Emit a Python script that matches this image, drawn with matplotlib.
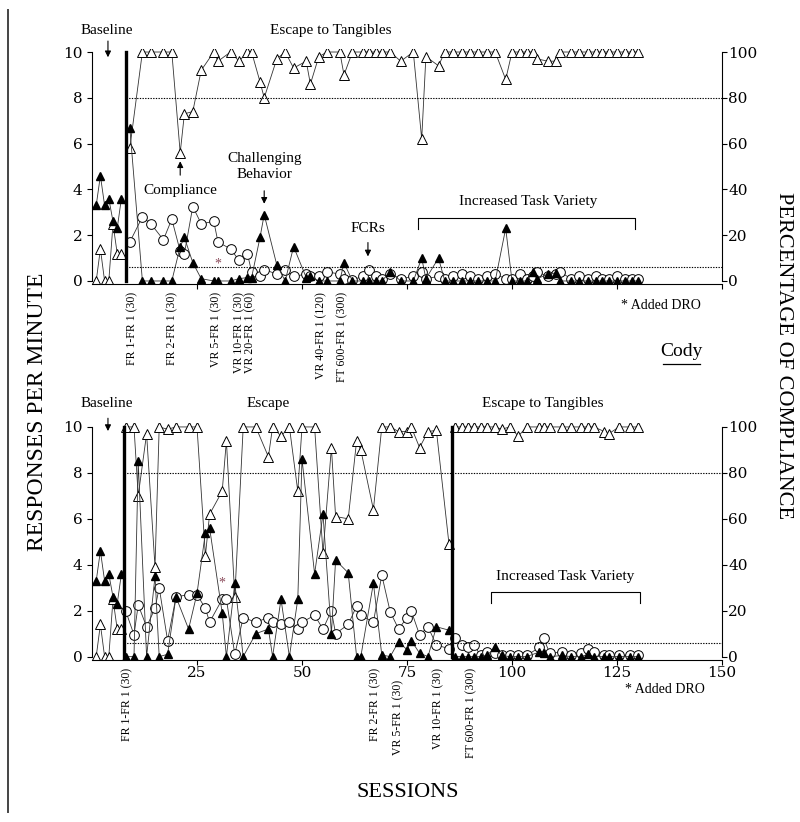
import matplotlib
matplotlib.use("Agg")
import matplotlib.pyplot as plt
from matplotlib import transforms
from matplotlib.lines import Line2D

plt.rcParams['font.family'] = ['Liberation Serif', 'DejaVu Serif']

# ---------------- data ----------------
# baseline, identical in both panels
base_x = [1, 2, 3, 4, 5, 6, 7]
base_chal = [3.3, 4.6, 3.3, 3.6, 2.6, 2.3, 3.6]
base_comp = [0, 1.4, 0, 0, 2.5, 1.2, 1.2]

# top panel: escape to tangibles
top_x = [9, 12, 14, 17, 19, 21, 22, 24, 26, 29, 30, 33, 35, 37, 38, 40, 41, 44, 46,
         48, 51, 52, 54, 56, 59, 60, 62,
         64.5, 66, 67.5, 69, 71, 73.5, 76.5, 78.5, 79.5, 82.5, 84, 86, 88, 90, 92, 94,
         96, 98.5, 100, 102, 103.5, 105, 106, 108.5, 110.5, 111.5, 114, 116, 118, 120,
         121.5, 123, 125, 127, 128.5, 130]
top_comp = [5.8, 10, 10, 10, 10, 5.6, 7.3, 7.4, 9.2, 10, 9.6, 10, 9.6, 10, 10, 8.7, 8.0,
            9.7, 10, 9.3, 9.6, 8.6, 9.8, 10, 10, 9.0, 10,
            10, 10, 10, 10, 10, 9.6, 10, 6.2, 9.8, 9.4, 10, 10, 10, 10, 10, 10, 10, 8.8,
            10, 10, 10, 10, 9.7, 9.6, 9.6, 10, 10, 10, 10, 10, 10, 10, 10, 10, 10, 10]
top_fcr = [1.7, 2.8, 2.5, 1.8, 2.7, 1.3, 1.2, 3.25, 2.5, 2.6, 1.7, 1.4, 0.9, 1.2, 0.4,
           0.2, 0.5, 0.3, 0.5, 0.2, 0.3, 0.2, 0.2, 0.4, 0.3, 0.1, 0.05,
           0.2, 0.5, 0.2, 0.1, 0.3, 0.1, 0.2, 0.4, 0.1, 0.2, 0.1, 0.2, 0.3, 0.2, 0.1,
           0.2, 0.3, 0.1, 0.1, 0.3, 0.1, 0.2, 0.4, 0.2, 0.3, 0.4, 0.1, 0.2, 0.1, 0.2,
           0.1, 0.1, 0.2, 0.1, 0.1, 0.1]
top_chal = [6.7, 0, 0, 0, 0, 1.5, 1.9, 0.8, 0.1, 0, 0, 0, 0.1, 0.15, 0.15, 1.9, 2.9,
            0.7, 0, 1.5, 0.15, 0.2, 0, 0, 0, 0.8, 0,
            0, 0, 0, 0, 0.4, 0, 0, 1.0, 0.1, 1.0, 0, 0, 0, 0, 0, 0, 0, 2.3, 0, 0, 0,
            0.4, 0.1, 0.3, 0.35, 0, 0, 0, 0, 0, 0, 0, 0, 0, 0, 0]

# bottom panel: escape
esc_x = [8, 10, 11, 13, 15, 16, 18, 20, 23, 25, 27, 28, 31, 32, 34, 36, 39, 42, 43, 45,
         47, 49, 50, 53, 55, 57, 58, 61, 63, 64, 67, 69, 71, 73, 75, 76, 78, 80, 82, 85]
esc_comp = [10, 10, 7.0, 9.7, 3.9, 10, 9.9, 10, 10, 10, 4.4, 6.2, 7.2, 9.4, 2.6, 10, 10,
            8.7, 10, 9.6, 10, 7.2, 10, 10, 4.5, 9.1, 6.1, 6.0, 9.4, 9.0, 6.4, 10, 10,
            9.8, 9.8, 10, 9.1, 9.8, 9.85, 4.9]
esc_fcr = [2.0, 0.95, 2.25, 1.3, 2.1, 3.0, 0.7, 2.6, 2.7, 2.7, 2.1, 1.5, 2.5, 2.5, 0.1,
           1.7, 1.5, 1.7, 1.5, 1.4, 1.5, 1.2, 1.5, 1.8, 1.2, 2.0, 1.0, 1.4, 2.2, 1.8, 1.5,
           3.55, 1.95, 1.2, 1.7, 2.0, 0.94, 1.3, 0.5, 0.35]
esc_chal = [0, 0, 8.5, 0, 3.5, 0, 0.1, 2.6, 1.2, 2.75, 5.4, 5.6, 1.9, 0, 3.2, 0, 1.0, 1.2,
            0, 2.5, 0, 2.5, 8.6, 3.6, 6.2, 1.0, 4.2, 3.65, 0, 0, 3.2, 0.07, 0, 0.65, 0.3,
            0.7, 0.15, 0, 1.3, 1.15]

# bottom panel: escape to tangibles
tan_x = [86.5, 88, 89.5, 91, 92.5, 94, 96, 97.5, 99.5, 101.5, 103.5, 106.5, 107.5, 109,
         112, 114, 116.5, 118, 119.5, 122, 123, 125.5, 128, 130]
tan_comp = [10, 10, 10, 10, 10, 10, 10, 9.9, 10, 9.6, 10, 10, 10, 10, 10, 10, 10, 10, 10,
            9.8, 9.7, 10, 10, 10]
tan_fcr = [0.8, 0.5, 0.4, 0.5, 0.05, 0.2, 0.15, 0.05, 0.05, 0.05, 0.05, 0.4, 0.8, 0.15,
           0.2, 0.05, 0.15, 0.35, 0.2, 0.05, 0.05, 0.05, 0.05, 0.05]
tan_chal = [0, 0, 0, 0, 0, 0.05, 0.4, 0.05, 0, 0, 0, 0.2, 0.15, 0, 0.05, 0, 0, 0.1, 0, 0,
            0, 0, 0, 0]

top_phase_labels = ["FR 1-FR 1 (30)", "FR 2-FR 1 (30)", "VR 5-FR 1 (30)", "VR 10-FR 1 (30)",
                    "VR 20-FR 1 (60)", "VR 40-FR 1 (120)", "FT 600-FR 1 (300)"]
top_phase_at = [9.5, 19.2, 29.7, 35.0, 37.6, 54.7, 59.5]
bot_phase_labels = ["FR 1-FR 1 (30)", "FR 2-FR 1 (30)", "VR 5-FR 1 (30)", "VR 10-FR 1 (30)",
                    "FT 600-FR 1 (300)"]
bot_phase_at = [8.3, 67.4, 72.9, 82.4, 90.4]

criterion_high = 8.0
criterion_low = 0.6

LINE = "#333333"


def draw_series(ax, x, comp, fcr, chal):
    ax.plot(x, comp, color=LINE, lw=0.6, marker="^", ms=7, mfc="white", mec="k", mew=0.7)
    if fcr is not None:
        ax.plot(x, fcr, color=LINE, lw=0.6, marker="o", ms=7, mfc="white", mec="k", mew=0.7)
    ax.plot(x, chal, color=LINE, lw=0.6, marker="^", ms=6, mfc="k", mec="k")


def setup_axes(ax, show_labels):
    ax.set_xlim(0, 150)
    ax.set_ylim(-0.15, 10.15)
    for s in ["top", "right"]:
        ax.spines[s].set_visible(False)
    ax.spines["left"].set_bounds(0, 10)
    ax.spines["bottom"].set_bounds(0, 150)
    ax.set_yticks(range(0, 11, 2))
    ax.set_xticks([25, 50, 75, 100, 125, 150])
    ax.tick_params(direction="out", length=3.5, width=0.8)
    ax.tick_params(axis="y", labelsize=11)
    if show_labels:
        ax.tick_params(axis="x", labelsize=11, pad=1)
    else:
        ax.set_xticklabels([])
    for lab in ax.get_yticklabels() + ax.get_xticklabels():
        lab.set_family("DejaVu Serif")
    tw = ax.twinx()
    tw.set_ylim(-1.5, 101.5)
    for s in ["top", "left", "bottom"]:
        tw.spines[s].set_visible(False)
    tw.spines["right"].set_bounds(0, 100)
    tw.set_yticks(range(0, 101, 20))
    tw.tick_params(direction="out", length=3.5, width=0.8, labelsize=11, pad=1)
    for lab in tw.get_yticklabels():
        lab.set_family("DejaVu Serif")


def arrow(ax, x, y0, y1):
    ax.annotate("", xy=(x, y1), xytext=(x, y0),
                arrowprops=dict(arrowstyle="-|>", lw=0.8, color="k", mutation_scale=9))


def bracket(ax, x0, x1, y, ydrop):
    ax.plot([x0, x0, x1, x1], [ydrop, y, y, ydrop], color="k", lw=0.8)


fig = plt.figure(figsize=(8, 8.22), dpi=100)
ax1 = fig.add_axes([0.115, 0.654, 0.7875, 0.2869])
ax2 = fig.add_axes([0.115, 0.197, 0.7875, 0.2878])

# ---------------- top panel ----------------
setup_axes(ax1, False)
draw_series(ax1, base_x, base_comp, None, base_chal)
draw_series(ax1, top_x, top_comp, top_fcr, top_chal)
ax1.plot([8, 8], [0, 10], color="k", lw=2.4)
ax1.plot([8, 150], [criterion_high] * 2, color="k", lw=0.8, ls=(0, (1.2, 1.2)))
ax1.plot([8, 150], [criterion_low] * 2, color="k", lw=0.8, ls=(0, (1.2, 1.2)))

ax1.text(3.6, 10.95, "Baseline", ha="center", va="center", fontsize=11, clip_on=False)
arrow(ax1, 3.8, 10.6, 9.65)
ax1.text(56.9, 10.95, "Escape to Tangibles", ha="center", va="center", fontsize=11,
         clip_on=False)
ax1.text(21, 3.97, "Compliance", ha="center", va="center", fontsize=11)
arrow(ax1, 21, 4.5, 5.35)
ax1.text(41, 4.98, "Challenging\nBehavior", ha="center", va="center", fontsize=11,
         linespacing=1.3)
arrow(ax1, 41, 4.06, 3.25)
ax1.text(30, 0.75, "*", ha="center", va="center", fontsize=10, color="#8a4a5a")
ax1.text(65.7, 2.31, "FCRs", ha="center", va="center", fontsize=11)
arrow(ax1, 65.7, 1.8, 0.95)
ax1.text(103.8, 3.45, "Increased Task Variety", ha="center", va="center", fontsize=11)
bracket(ax1, 77.5, 129.3, 2.75, 2.27)
ax1.text(135.5, -1.05, "* Added DRO", ha="center", va="center", fontsize=10, clip_on=False)
ax1.text(140.4, -3.1, "Cody", ha="center", va="center", fontsize=14, clip_on=False)
ax1.plot([136, 144.8], [-3.62, -3.62], color="k", lw=0.9, clip_on=False)

trans1 = transforms.blended_transform_factory(ax1.transData, ax1.transAxes)
for lab, xs in zip(top_phase_labels, top_phase_at):
    ax1.text(xs, -0.032, lab, rotation=90, ha="center", va="top", fontsize=8.5,
             transform=trans1)

# ---------------- bottom panel ----------------
setup_axes(ax2, True)
draw_series(ax2, base_x, base_comp, None, base_chal)
draw_series(ax2, esc_x, esc_comp, esc_fcr, esc_chal)
draw_series(ax2, tan_x, tan_comp, tan_fcr, tan_chal)
ax2.plot([7.6, 7.6], [0, 10], color="k", lw=2.4)
ax2.plot([85.6, 85.6], [0, 10], color="k", lw=2.4)
ax2.plot([7.6, 150], [criterion_high] * 2, color="k", lw=0.8, ls=(0, (1.2, 1.2)))
ax2.plot([7.6, 150], [criterion_low] * 2, color="k", lw=0.8, ls=(0, (1.2, 1.2)))

ax2.text(3.6, 11.03, "Baseline", ha="center", va="center", fontsize=11, clip_on=False)
arrow(ax2, 3.8, 10.5, 9.7)
ax2.text(41.9, 11.03, "Escape", ha="center", va="center", fontsize=11, clip_on=False)
ax2.text(107.4, 11.03, "Escape to Tangibles", ha="center", va="center", fontsize=11,
         clip_on=False)
ax2.text(112.6, 3.51, "Increased Task Variety", ha="center", va="center", fontsize=11)
bracket(ax2, 94.9, 130.5, 2.81, 2.33)
ax2.text(30.9, 3.2, "*", ha="center", va="center", fontsize=10, color="#8a4a5a")
ax2.text(136.5, -1.45, "* Added DRO", ha="center", va="center", fontsize=10, clip_on=False)

trans2 = transforms.blended_transform_factory(ax2.transData, ax2.transAxes)
for lab, xs in zip(bot_phase_labels, bot_phase_at):
    ytop = -0.085 if lab.startswith("VR 5") else -0.033
    ax2.text(xs, ytop, lab, rotation=90, ha="center", va="top", fontsize=8.5,
             transform=trans2)

ax2.text(75.2, -5.93, "SESSIONS", ha="center", va="center", fontsize=16, clip_on=False)

fig.text(0.0475, 0.499, "RESPONSES PER MINUTE", rotation=90, ha="center", va="center",
         fontsize=17)
fig.text(0.979, 0.568, "PERCENTAGE OF COMPLIANCE", rotation=-90, ha="center",
         va="center", fontsize=16)
fig.add_artist(Line2D([0.0095, 0.0095], [0.012, 0.988], color="#444444", lw=1.4,
                      transform=fig.transFigure))

fig.savefig("out.png", dpi=100)
